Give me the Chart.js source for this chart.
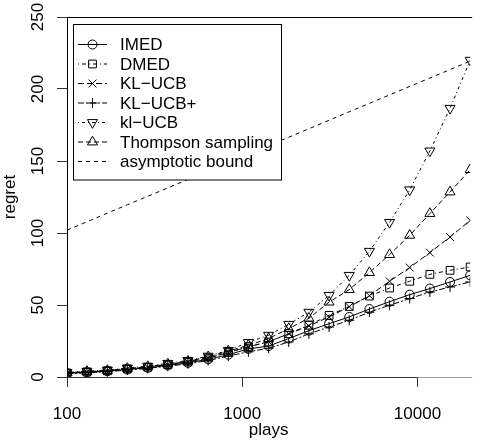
<!DOCTYPE html>
<html>
<head>
<meta charset="utf-8">
<script src="https://cdn.jsdelivr.net/npm/chart.js@4/dist/chart.umd.min.js"></script>
<style>
html,body{margin:0;padding:0;background:#fff;}
#c{display:block;}
</style>
</head>
<body>
<canvas id="c" width="477" height="444"></canvas>
<script>
const plays = [100,130,170,221,289,376,490,639,833,1085,1414,1843,2402,3131,4081,5319,6932,9035,11774,15346,20000];
const seriesNames = ["IMED","DMED","KL\u2212UCB","KL\u2212UCB+","kl\u2212UCB","Thompson sampling","asymptotic bound"];
const imed     = [2.5,3.2,4.0,5.2,6.4,8.0,9.8,12.3,15.5,19.5,21.5,26.7,32.2,37.0,41.7,47.2,52.3,57.2,61.4,66.0,70.6];
const dmed     = [2.8,3.5,4.3,5.6,6.8,8.6,10.5,13.2,17.0,21.0,24.3,30.1,36.0,42.8,49.0,56.2,61.8,66.5,71.3,74.1,76.4];
const klucb    = [2.8,3.5,4.3,5.6,6.8,8.6,10.5,13.2,17.0,21.0,24.5,30.0,35.5,41.7,48.8,56.5,66.5,76.0,86.4,97.2,108.8];
const klucbp   = [2.3,3.0,3.7,4.8,6.0,7.5,9.2,11.5,14.5,17.5,20.0,24.3,30.0,34.7,39.4,45.0,49.8,54.5,59.0,62.5,66.0];
const klucb2   = [3.2,4.0,4.8,6.2,7.5,9.5,11.5,14.5,18.5,24.0,29.0,36.6,45.0,56.7,70.6,87.3,107.4,130.0,157.0,186.6,220.0];
const thompson = [3.0,3.8,4.5,5.9,7.2,9.0,11.0,14.0,18.0,22.0,26.7,33.6,40.8,52.0,60.7,72.5,85.0,98.4,113.5,128.5,144.0];
const bound    = [102.0,107.8,113.8,119.6,125.5,131.3,137.2,143.1,149.0,154.8,160.7,166.5,172.4,178.3,184.2,190.0,195.9,201.8,207.6,213.5,219.4];
const xTicks = [100,1000,10000];
const yTicks = [0,50,100,150,200,250];

const FONT = "'Liberation Sans', Arial, Helvetica, sans-serif";
const pts = (arr) => arr.map((v,i)=>({x:plays[i], y:v}));

const styles = [
  {data:imed,     dash:[],          ps:'circle',   r:4.5, rot:0},
  {data:dmed,     dash:[1,3,4,3],   ps:'rect',     r:5.5, rot:0},
  {data:klucb,    dash:[6,3],       ps:'crossRot', r:5.5, rot:0},
  {data:klucbp,   dash:[6,2,2,2],   ps:'cross',    r:5,   rot:0},
  {data:klucb2,   dash:[1,3,3,3],   ps:'triangle', r:5.8, rot:180},
  {data:thompson, dash:[5,3],       ps:'triangle', r:5.8, rot:0},
  {data:bound,    dash:[4,4],       ps:false,      r:0,   rot:0}
];

const datasets = styles.map((s,i)=>({
  label: seriesNames[i],
  data: pts(s.data),
  borderColor:'#000',
  borderWidth:1,
  borderDash:s.dash,
  tension:0,
  fill:false,
  pointStyle:s.ps,
  pointRadius:s.r,
  pointRotation:s.rot,
  pointBorderColor:'#000',
  pointBackgroundColor:'rgba(0,0,0,0)',
  pointBorderWidth:1,
  pointHoverRadius:s.r
}));

const rAxisPlugin = {
  id:'rAxis',
  afterDraw(chart){
    const ctx = chart.ctx;
    const xs = chart.scales.x, ys = chart.scales.y;
    const ca = chart.chartArea;
    ctx.save();
    // y tick labels, rotated (R style)
    ctx.fillStyle = '#000';
    ctx.font = "17px " + FONT;
    ctx.textAlign = 'center';
    ctx.textBaseline = 'middle';
    ys.ticks.forEach(t=>{
      const y = ys.getPixelForValue(t.value);
      ctx.save();
      ctx.translate(38.5, y);
      ctx.rotate(-Math.PI/2);
      ctx.fillText(String(t.value), 0, 0);
      ctx.restore();
    });
    // x axis line: from first to last tick dark, rest grey
    const x0 = xs.getPixelForValue(xTicks[0]);
    const x1 = xs.getPixelForValue(xTicks[xTicks.length-1]);
    const yb = Math.round(ca.bottom) + 0.5;
    ctx.lineWidth = 1;
    ctx.setLineDash([]);
    ctx.strokeStyle = '#333';
    ctx.beginPath(); ctx.moveTo(x0, yb); ctx.lineTo(x1, yb); ctx.stroke();
    ctx.strokeStyle = '#999';
    ctx.beginPath(); ctx.moveTo(x1, yb); ctx.lineTo(ca.right+2, yb); ctx.stroke();
    // top line
    const yt = Math.round(ca.top) + 0.5;
    ctx.strokeStyle = '#000';
    ctx.beginPath(); ctx.moveTo(ca.left, yt); ctx.lineTo(ca.right+2, yt); ctx.stroke();

    // legend box
    const lx = 73.5, ly = 24.5, lw = 208, lh = 155.5;
    ctx.fillStyle = '#fff';
    ctx.fillRect(lx, ly, lw, lh);
    ctx.strokeStyle = '#000';
    ctx.strokeRect(lx, ly, lw, lh);
    chart.data.datasets.forEach((ds,i)=>{
      const ry = 44.5 + i*19.5;
      ctx.save();
      ctx.strokeStyle = '#000';
      ctx.fillStyle = 'rgba(0,0,0,0)';
      ctx.lineWidth = 1;
      ctx.setLineDash(ds.borderDash || []);
      ctx.beginPath(); ctx.moveTo(78, ry); ctx.lineTo(107, ry); ctx.stroke();
      ctx.setLineDash([]);
      if (ds.pointStyle) {
        Chart.helpers.drawPoint(ctx, {pointStyle:ds.pointStyle, rotation:ds.pointRotation, radius:ds.pointRadius, borderWidth:1}, 92.5, ry);
      }
      ctx.restore();
      ctx.fillStyle = '#000';
      ctx.font = "17px " + FONT;
      ctx.textAlign = 'left';
      ctx.textBaseline = 'middle';
      ctx.fillText(ds.label, 120, ry + 1);
    });
    ctx.restore();
  }
};

new Chart(document.getElementById('c'), {
  type:'line',
  data:{datasets},
  options:{
    responsive:false,
    animation:false,
    devicePixelRatio:1,
    layout:{padding:{top:17,right:0,left:0,bottom:0}},
    plugins:{legend:{display:false}, tooltip:{enabled:false}},
    scales:{
      x:{
        type:'logarithmic',
        position:'bottom',
        min:100, max:20000,
        afterBuildTicks:(s)=>{ s.ticks = xTicks.map(v=>({value:v})); },
        afterFit:(s)=>{ s.height = 67; },
        ticks:{color:'#000', font:{family:FONT, size:17}, padding:17, maxRotation:0, autoSkip:false,
               callback:(v)=>String(v)},
        grid:{display:true, drawOnChartArea:false, drawTicks:true, tickLength:10, color:'#333', lineWidth:1},
        border:{display:false},
        title:{display:true, text:'plays', color:'#000', font:{family:FONT, size:17}, padding:{top:0,bottom:3}}
      },
      y:{
        type:'linear',
        min:0, max:250,
        afterBuildTicks:(s)=>{ s.ticks = yTicks.map(v=>({value:v})); },
        afterFit:(s)=>{ s.width = 67; },
        ticks:{display:false},
        grid:{display:true, drawOnChartArea:false, drawTicks:true, tickLength:10, color:'#333', lineWidth:1},
        border:{display:true, color:'#000', width:1},
        title:{display:true, text:'regret', color:'#000', font:{family:FONT, size:17}, padding:{top:0,bottom:0}}
      }
    }
  },
  plugins:[rAxisPlugin]
});
</script>
</body>
</html>
